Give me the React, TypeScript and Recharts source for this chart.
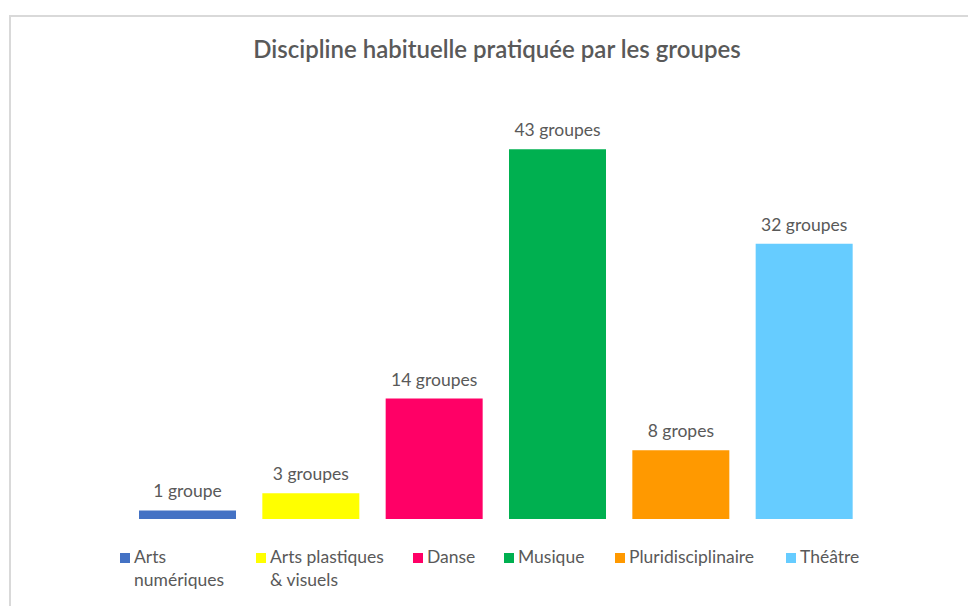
import React from 'react';
import { BarChart, Bar, XAxis, YAxis, Cell, LabelList } from 'recharts';

const categories = ['Arts numériques', 'Arts plastiques & visuels', 'Danse', 'Musique', 'Pluridisciplinaire', 'Théâtre'];
const values = [1, 3, 14, 43, 8, 32];
const valueLabels = ['1 groupe', '3 groupes', '14 groupes', '43 groupes', '8 gropes', '32 groupes'];
const colors = ['#4472C4', '#FFFF00', '#FF0066', '#00B050', '#FF9900', '#66CCFF'];
const title = 'Discipline habituelle pratiquée par les groupes';

const data = categories.map((c, i) => ({ name: c, value: values[i], label: valueLabels[i] }));

const FONT = 'Lato, "Open Sans", sans-serif';
const TEXT = '#595959';
const legendWidths = [136, 157, 91, 111, 171, 120];

const LegendBlock = () => (
  <div style={{ position: 'absolute', left: 0, top: 545, width: 968, display: 'flex', alignItems: 'flex-start', paddingLeft: 120, fontFamily: FONT, fontSize: 17.5, color: TEXT, lineHeight: '23px' }}>
    {categories.map((c, i) => (
      <div key={c} style={{ display: 'flex', alignItems: 'flex-start', width: legendWidths[i], flex: 'none' }}>
        <span style={{ display: 'inline-block', width: 10, height: 10, background: colors[i], marginTop: 8, marginRight: 4, flex: 'none' }} />
        <span style={{ maxWidth: 120, whiteSpace: 'normal' }}>{c}</span>
      </div>
    ))}
  </div>
);

export default function App() {
  return (
    <div style={{ position: 'absolute', left: 0, top: 0, width: 968, height: 606, background: '#fff', overflow: 'hidden' }}>
      <div style={{ position: 'absolute', left: 9, top: 15, width: 1000, height: 700, borderTop: '2px solid #d9d9d9', borderLeft: '2px solid #d9d9d9' }} />
      <div style={{ position: 'absolute', left: 0, top: 0 }}>
        <BarChart width={968} height={606} data={data} margin={{ top: 89, right: 102, bottom: 87, left: 126 }}>
          <text x={497} y={48} textAnchor="middle" dominantBaseline="central" fill={TEXT} fontFamily={FONT} fontSize={24} fontWeight={600}>{title}</text>
          <XAxis dataKey="name" hide />
          <YAxis hide domain={[0, 50]} />
          <Bar dataKey="value" barSize={97} isAnimationActive={false}>
            {data.map((d, i) => (
              <Cell key={d.name} fill={colors[i]} />
            ))}
            <LabelList dataKey="label" position="top" offset={13} fill={TEXT} fontFamily={FONT} fontSize={17.5} />
          </Bar>
        </BarChart>
      </div>
      <LegendBlock />
    </div>
  );
}
